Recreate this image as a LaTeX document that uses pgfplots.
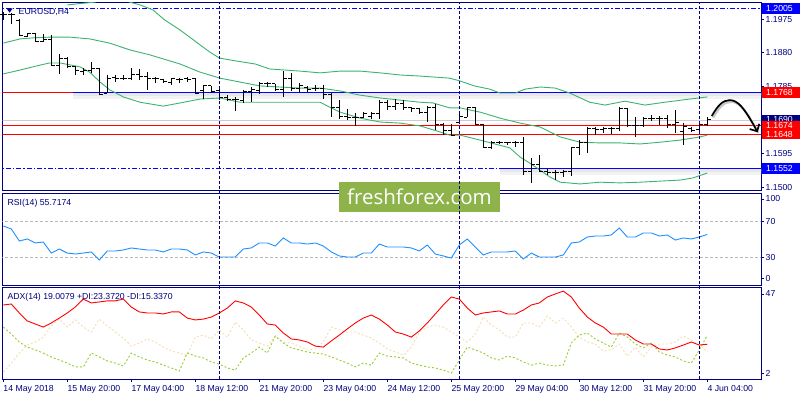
\documentclass[border=0pt]{standalone}
\usepackage{pgfplots}
\pgfplotsset{compat=1.18}
\usepackage{pgfplotstable}
\usepackage{fontspec}
\setmainfont{Liberation Sans}
\newfontfamily\wmfont{Open Sans}
\usetikzlibrary{arrows.meta}
\definecolor{navy}{RGB}{0,0,128}
\definecolor{bbgreen}{RGB}{60,179,113}
\definecolor{rsiblue}{RGB}{30,144,255}
\definecolor{digreen}{RGB}{154,205,50}
\definecolor{diwheat}{RGB}{245,222,179}
\definecolor{ffgreen}{RGB}{141,179,74}
\definecolor{lvlblue}{RGB}{0,0,255}
\definecolor{lvlred}{RGB}{255,0,0}
\definecolor{bidgray}{RGB}{205,205,205}
\newcommand\mtfont{\fontsize{8.7}{10.3}\selectfont}
\pgfdeclareplotmark{otick}{\pgfpathmoveto{\pgfqpoint{-3.2pt}{0pt}}\pgfpathlineto{\pgfqpoint{0pt}{0pt}}\pgfusepathqstroke}
\pgfdeclareplotmark{ctick}{\pgfpathmoveto{\pgfqpoint{0pt}{0pt}}\pgfpathlineto{\pgfqpoint{3.2pt}{0pt}}\pgfusepathqstroke}
\pgfplotstableread{
i o h l c
0 1.1989 1.1995 1.1972 1.1989
1 1.1989 1.1992 1.1961 1.1987
2 1.1972 1.1975 1.1927 1.1930
3 1.1927 1.1936 1.1924 1.1933
4 1.1933 1.1936 1.1910 1.1913
5 1.1913 1.1933 1.1910 1.1916
6 1.1916 1.1930 1.1845 1.1845
7 1.1845 1.1876 1.1820 1.1865
8 1.1865 1.1868 1.1837 1.1840
9 1.1840 1.1842 1.1817 1.1831
10 1.1828 1.1837 1.1817 1.1831
11 1.1831 1.1854 1.1823 1.1834
12 1.1834 1.1837 1.1763 1.1763
13 1.1766 1.1817 1.1766 1.1808
14 1.1811 1.1817 1.1797 1.1806
15 1.1806 1.1817 1.1803 1.1808
16 1.1808 1.1837 1.1803 1.1817
17 1.1817 1.1834 1.1803 1.1814
18 1.1814 1.1825 1.1775 1.1808
19 1.1806 1.1811 1.1794 1.1806
20 1.1803 1.1806 1.1794 1.1800
21 1.1797 1.1808 1.1789 1.1806
22 1.1803 1.1808 1.1794 1.1803
23 1.1806 1.1811 1.1797 1.1803
24 1.1806 1.1808 1.1763 1.1766
25 1.1772 1.1789 1.1749 1.1786
26 1.1786 1.1786 1.1766 1.1769
27 1.1772 1.1777 1.1746 1.1752
28 1.1752 1.1760 1.1743 1.1749
29 1.1749 1.1755 1.1715 1.1749
30 1.1746 1.1775 1.1738 1.1769
31 1.1769 1.1783 1.1740 1.1775
32 1.1772 1.1797 1.1763 1.1794
33 1.1794 1.1797 1.1783 1.1792
34 1.1792 1.1792 1.1772 1.1775
35 1.1775 1.1828 1.1755 1.1808
36 1.1808 1.1823 1.1772 1.1780
37 1.1780 1.1794 1.1769 1.1786
38 1.1783 1.1786 1.1769 1.1777
39 1.1780 1.1789 1.1772 1.1780
40 1.1780 1.1789 1.1749 1.1763
41 1.1763 1.1766 1.1698 1.1726
42 1.1726 1.1746 1.1693 1.1701
43 1.1701 1.1721 1.1690 1.1698
44 1.1698 1.1710 1.1673 1.1698
45 1.1698 1.1712 1.1695 1.1707
46 1.1701 1.1712 1.1693 1.1707
47 1.1707 1.1746 1.1693 1.1738
48 1.1738 1.1746 1.1718 1.1729
49 1.1729 1.1749 1.1718 1.1735
50 1.1735 1.1746 1.1718 1.1724
51 1.1724 1.1726 1.1712 1.1721
52 1.1721 1.1724 1.1707 1.1712
53 1.1712 1.1729 1.1684 1.1726
54 1.1726 1.1735 1.1661 1.1676
55 1.1676 1.1681 1.1647 1.1661
56 1.1661 1.1678 1.1644 1.1647
57 1.1684 1.1707 1.1681 1.1701
58 1.1698 1.1726 1.1698 1.1724
59 1.1724 1.1726 1.1676 1.1676
60 1.1676 1.1678 1.1611 1.1613
61 1.1613 1.1630 1.1608 1.1627
62 1.1627 1.1630 1.1622 1.1625
63 1.1625 1.1627 1.1619 1.1625
64 1.1625 1.1630 1.1613 1.1627
65 1.1627 1.1642 1.1534 1.1543
66 1.1543 1.1582 1.1512 1.1563
67 1.1563 1.1591 1.1543 1.1545
68 1.1545 1.1551 1.1534 1.1540
69 1.1540 1.1548 1.1520 1.1540
70 1.1540 1.1548 1.1529 1.1543
71 1.1543 1.1613 1.1531 1.1613
72 1.1613 1.1633 1.1591 1.1627
73 1.1627 1.1670 1.1596 1.1667
74 1.1667 1.1670 1.1647 1.1664
75 1.1664 1.1670 1.1653 1.1667
76 1.1667 1.1670 1.1650 1.1667
77 1.1667 1.1726 1.1659 1.1721
78 1.1721 1.1724 1.1670 1.1673
79 1.1673 1.1698 1.1642 1.1673
80 1.1673 1.1698 1.1670 1.1693
81 1.1693 1.1704 1.1687 1.1693
82 1.1693 1.1701 1.1676 1.1695
83 1.1695 1.1704 1.1667 1.1678
84 1.1678 1.1718 1.1653 1.1684
85 1.1656 1.1681 1.1619 1.1670
86 1.1667 1.1670 1.1656 1.1661
87 1.1664 1.1681 1.1659 1.1678
88 1.1678 1.1698 1.1673 1.1690
}\ohlc
\pgfplotsset{
  mtpanel/.style={scale only axis, width=758.5pt, xmin=-0.1, xmax=94.71,
    anchor=south west, axis line style={navy, line width=0.8pt},
    xtick=\empty, ytick pos=right, yticklabel pos=right,
    tick align=outside, major tick length=3pt,
    tick style={navy, line width=0.6pt},
    every tick label/.append style={text=navy, font=\mtfont},
    yticklabel style={anchor=west, inner xsep=1.5pt},
    /pgf/number format/assume math mode=true},
}
\begin{document}
\begin{tikzpicture}[x=1pt,y=1pt]
\path[use as bounding box] (0,0) rectangle (800,400);
\fill[white] (0,0) rectangle (800,400);
% ---------------- main price panel
\begin{axis}[mtpanel, at={(2.5pt,210pt)}, height=188pt,
  ymin=1.14919, ymax=1.20233,
  ytick={1.1500,1.1595,1.1690,1.1785,1.1880,1.1975},
  yticklabel style={/pgf/number format/.cd, fixed, fixed zerofill, precision=4}]
% level lines
\addplot[lvlblue, line width=0.9pt, dash pattern=on 5pt off 2pt on 1.5pt off 2pt] coordinates {(-1,1.2005) (96,1.2005)};
\addplot[black!5, line width=7pt] coordinates {(8.7,1.17595) (96,1.17595)};
\addplot[black!9, line width=3pt] coordinates {(8.7,1.1762) (96,1.1762)};
\addplot[lvlred, line width=0.9pt] coordinates {(-1,1.1768) (8.7,1.1768)};
\addplot[lvlblue, line width=0.9pt] coordinates {(8.7,1.1768) (96,1.1768)};
\addplot[bidgray, line width=0.8pt] coordinates {(-1,1.1690) (96,1.1690)};
\addplot[lvlred, line width=0.9pt] coordinates {(-1,1.1674) (96,1.1674)};
\addplot[lvlred, line width=0.9pt] coordinates {(-1,1.1648) (96,1.1648)};
\addplot[black!5, line width=7pt] coordinates {(62.1,1.15435) (96,1.15435)};
\addplot[black!9, line width=3pt] coordinates {(62.1,1.1546) (96,1.1546)};
\addplot[lvlblue, line width=0.9pt, dash pattern=on 5pt off 2pt on 1.5pt off 2pt] coordinates {(-1,1.1552) (62.1,1.1552)};
\addplot[lvlblue, line width=0.9pt] coordinates {(62.1,1.1552) (96,1.1552)};
% Bollinger bands
\addplot[bbgreen, line width=0.9pt] coordinates {(8.0,1.2015) (9.6,1.2019) (11.5,1.2023) (12.1,1.2029) (14.0,1.2032) (15.2,1.2029) (15.8,1.2023) (17.1,1.2015) (18.7,1.2001) (20.2,1.1972) (21.5,1.1953) (22.1,1.1944) (23.3,1.1924) (24.6,1.1902) (25.8,1.1882) (27.0,1.1865) (29.0,1.1857) (31.5,1.1848) (33.3,1.1834) (37.1,1.1828) (39.6,1.1823) (42.1,1.1828) (44.6,1.1828) (47.1,1.1823) (49.6,1.1817) (52.1,1.1814) (55.8,1.1808) (57.1,1.1800) (58.9,1.1786) (60.8,1.1777) (62.1,1.1766) (64.0,1.1766) (65.2,1.1777) (67.1,1.1783) (69.0,1.1780) (70.8,1.1766) (73.3,1.1740) (75.2,1.1732) (77.7,1.1743) (80.2,1.1732) (82.7,1.1740) (85.8,1.1749) (88.0,1.1755)};
\addplot[bbgreen, line width=0.9pt] coordinates {(0.0,1.1907) (2.1,1.1919) (3.7,1.1922) (5.8,1.1924) (8.3,1.1924) (10.8,1.1919) (13.3,1.1907) (15.8,1.1888) (18.3,1.1874) (22.1,1.1848) (24.6,1.1825) (27.1,1.1808) (29.6,1.1797) (32.1,1.1786) (34.6,1.1783) (37.1,1.1780) (39.6,1.1780) (42.1,1.1772) (44.6,1.1760) (47.1,1.1752) (49.6,1.1746) (52.1,1.1740) (53.7,1.1738) (55.8,1.1724) (57.1,1.1724) (59.6,1.1712) (62.1,1.1695) (64.6,1.1681) (67.1,1.1670) (69.6,1.1642) (72.1,1.1627) (74.6,1.1625) (77.1,1.1625) (79.6,1.1622) (82.1,1.1627) (84.6,1.1633) (87.1,1.1642) (88.0,1.1647)};
\addplot[bbgreen, line width=0.9pt] coordinates {(0.0,1.1820) (2.1,1.1831) (4.6,1.1845) (5.8,1.1851) (7.1,1.1851) (9.6,1.1840) (10.8,1.1825) (12.1,1.1797) (13.3,1.1775) (15.0,1.1755) (17.1,1.1740) (20.0,1.1729) (22.1,1.1738) (24.6,1.1749) (27.1,1.1752) (28.3,1.1746) (29.6,1.1740) (34.6,1.1740) (39.6,1.1740) (40.8,1.1726) (42.1,1.1712) (44.6,1.1695) (47.1,1.1684) (49.6,1.1681) (52.1,1.1673) (54.6,1.1656) (55.8,1.1647) (57.1,1.1647) (59.6,1.1633) (63.3,1.1611) (64.6,1.1585) (65.8,1.1568) (67.1,1.1548) (68.3,1.1529) (69.6,1.1514) (72.1,1.1509) (74.6,1.1514) (77.1,1.1512) (79.6,1.1514) (82.1,1.1517) (84.6,1.1520) (86.2,1.1526) (88.0,1.1540)};
% OHLC bars
\addplot[draw=none, mark=none, forget plot,
  error bars/.cd, y dir=minus, y explicit, error mark=none,
  error bar style={black, line width=1pt}]
  table[x=i, y=h, y error minus expr={\thisrow{h}-\thisrow{l}}] {\ohlc};
\addplot[only marks, mark=otick, mark options={black, line width=1pt}] table[x=i, y=o] {\ohlc};
\addplot[only marks, mark=ctick, mark options={black, line width=1pt}] table[x=i, y=c] {\ohlc};
% forecast arrow
\draw[black!22, line width=2.4pt, xshift=1.3pt, yshift=-1.6pt] (axis cs:88.55,1.1701) .. controls (axis cs:89.3,1.1730) and (axis cs:89.9,1.1746) .. (axis cs:90.8,1.1746) .. controls (axis cs:91.8,1.1746) and (axis cs:92.6,1.1725) .. (axis cs:94.2,1.1658);
\draw[black, line width=1.7pt, -{Straight Barb[length=5.5pt, width=11pt]}] (axis cs:88.55,1.1701) .. controls (axis cs:89.3,1.1730) and (axis cs:89.9,1.1746) .. (axis cs:90.8,1.1746) .. controls (axis cs:91.8,1.1746) and (axis cs:92.6,1.1725) .. (axis cs:94.3,1.1655);
\coordinate (p2005) at (axis cs:0,1.2005);
\coordinate (p1768) at (axis cs:0,1.1768);
\coordinate (p1690) at (axis cs:0,1.1690);
\coordinate (p1674) at (axis cs:0,1.1674);
\coordinate (p1648) at (axis cs:0,1.1648);
\coordinate (p1552) at (axis cs:0,1.1552);
\end{axis}
% ---------------- RSI panel
\begin{axis}[mtpanel, at={(2.5pt,115pt)}, height=92pt,
  ymin=-1.1, ymax=102.2, ytick={6.7,30,70,95.5}, yticklabels={0,30,70,100}]
\addplot[black!28, line width=0.7pt, dash pattern=on 3pt off 2pt] coordinates {(-1,70) (96,70)};
\addplot[black!28, line width=0.7pt, dash pattern=on 3pt off 2pt] coordinates {(-1,30) (96,30)};
\addplot[rsiblue, line width=0.9pt] coordinates {(0,65.2) (1,61.8) (2,48.3) (3,50.6) (4,46.1) (5,47.2) (6,34.8) (7,39.3) (8,34.8) (9,33.7) (10,34.8) (11,36.0) (12,27.0) (13,37.1) (14,37.1) (15,38.2) (16,40.5) (17,39.3) (18,38.2) (19,38.2) (20,36.0) (21,39.3) (22,39.3) (23,38.2) (24,32.6) (25,36.0) (26,34.8) (27,30.3) (28,30.3) (29,30.3) (30,39.3) (31,40.5) (32,46.1) (33,46.1) (34,42.7) (35,51.7) (36,46.1) (37,46.1) (38,44.9) (39,46.1) (40,42.7) (41,36.0) (42,31.5) (43,30.3) (44,30.3) (45,34.8) (46,34.8) (47,44.9) (48,41.6) (49,41.6) (50,41.6) (51,40.5) (52,37.1) (53,43.8) (54,33.7) (55,31.5) (56,29.2) (57,43.8) (58,50.6) (59,41.6) (60,32.6) (61,36.0) (62,36.0) (63,36.0) (64,37.1) (65,28.1) (66,34.8) (67,30.3) (68,30.3) (69,30.3) (70,32.6) (71,46.1) (72,47.2) (73,52.8) (74,53.9) (75,53.9) (76,55.1) (77,62.9) (78,52.8) (79,52.8) (80,57.3) (81,57.3) (82,53.9) (83,55.1) (84,49.4) (85,51.7) (86,50.6) (87,52.8) (88,55.7)};
\end{axis}
% ---------------- ADX panel
\begin{axis}[mtpanel, at={(2.5pt,21pt)}, height=92pt,
  ymin=2, ymax=47, ytick={4.9,43.6}, yticklabels={2,47},
  xtick={0,8,...,88}, xtick pos=bottom, xticklabel pos=bottom,
  xticklabels={14 May 2018,15 May 20:00,17 May 04:00,18 May 12:00,21 May 20:00,23 May 04:00,24 May 12:00,25 May 20:00,29 May 04:00,30 May 12:00,31 May 20:00,4 Jun 04:00},
  xticklabel style={anchor=north west, inner xsep=0pt, inner ysep=3pt}]
\addplot[diwheat, line width=0.9pt, dash pattern=on 2pt off 2pt] coordinates {(0,5.4) (1,9.8) (2,14.7) (3,18.6) (4,20.1) (5,22.5) (6,27.9) (7,31.3) (8,27.4) (9,30.9) (10,27.4) (11,25.0) (12,31.3) (13,27.9) (14,25.0) (15,22.0) (16,18.1) (17,19.6) (18,21.6) (19,20.1) (20,17.6) (21,15.7) (22,14.7) (23,13.7) (24,22.5) (25,23.5) (26,21.6) (27,26.0) (28,22.5) (29,29.9) (30,26.0) (31,21.1) (32,19.6) (33,18.1) (34,23.0) (35,20.1) (36,19.6) (37,18.1) (38,16.2) (39,16.7) (40,20.1) (41,27.4) (42,26.0) (43,25.0) (44,25.0) (45,23.5) (46,22.0) (47,19.6) (48,16.7) (49,15.2) (50,13.7) (51,17.6) (52,25.0) (53,27.4) (54,28.4) (55,27.4) (56,25.0) (57,22.5) (58,20.1) (59,24.0) (60,32.3) (61,28.4) (62,26.0) (63,22.5) (64,22.5) (65,29.4) (66,29.4) (67,27.4) (68,32.8) (69,29.4) (70,31.8) (71,27.4) (72,22.5) (73,20.1) (74,19.1) (75,15.7) (76,16.2) (77,19.1) (78,13.2) (79,17.6) (80,12.8) (81,17.6) (82,19.1) (83,19.1) (84,20.1) (85,23.0) (86,21.1) (87,18.6) (88,15.3)};
\addplot[digreen, line width=0.9pt, dash pattern=on 2pt off 2pt] coordinates {(0,27.4) (1,24.0) (2,20.1) (3,17.6) (4,16.2) (5,14.7) (6,12.8) (7,11.3) (8,9.8) (9,7.9) (10,7.9) (11,14.7) (12,12.8) (13,10.8) (14,9.8) (15,8.4) (16,14.7) (17,12.8) (18,11.3) (19,10.3) (20,8.8) (21,7.4) (22,5.9) (23,14.7) (24,13.2) (25,12.3) (26,10.3) (27,9.3) (28,7.4) (29,6.4) (30,12.3) (31,14.7) (32,17.6) (33,14.7) (34,23.0) (35,19.6) (36,17.2) (37,16.2) (38,15.2) (39,14.7) (40,14.2) (41,12.8) (42,11.3) (43,9.8) (44,7.9) (45,9.8) (46,8.8) (47,14.7) (48,13.2) (49,12.8) (50,12.3) (51,9.8) (52,8.8) (53,7.9) (54,7.4) (55,6.4) (56,4.9) (57,11.3) (58,17.6) (59,16.2) (60,14.7) (61,12.3) (62,11.3) (63,13.2) (64,12.3) (65,10.3) (66,8.8) (67,9.8) (68,8.8) (69,8.4) (70,8.8) (71,19.6) (72,23.5) (73,24.5) (74,21.6) (75,19.6) (76,17.6) (77,24.5) (78,22.5) (79,19.1) (80,17.2) (81,19.6) (82,15.2) (83,13.7) (84,12.8) (85,10.8) (86,9.8) (87,16.2) (88,23.4)};
\addplot[lvlred, line width=0.9pt] coordinates {(0,38.2) (1,38.7) (2,34.3) (3,30.4) (4,28.9) (5,27.4) (6,29.4) (7,31.8) (8,34.3) (9,37.2) (10,41.1) (11,39.2) (12,39.7) (13,40.2) (14,40.2) (15,41.1) (16,37.2) (17,34.8) (18,34.3) (19,34.3) (20,33.8) (21,34.8) (22,34.8) (23,31.8) (24,30.9) (25,31.3) (26,32.3) (27,34.3) (28,36.7) (29,40.2) (30,39.2) (31,37.2) (32,33.3) (33,28.9) (34,28.4) (35,24.5) (36,21.6) (37,21.1) (38,20.1) (39,18.1) (40,17.6) (41,20.6) (42,23.5) (43,26.5) (44,29.4) (45,31.8) (46,33.3) (47,31.3) (48,28.4) (49,25.0) (50,24.0) (51,22.5) (52,25.5) (53,29.4) (54,33.8) (55,38.2) (56,42.1) (57,41.1) (58,36.7) (59,33.3) (60,34.3) (61,34.8) (62,35.3) (63,33.8) (64,33.8) (65,35.7) (66,38.2) (67,39.2) (68,42.1) (69,43.6) (70,45.0) (71,42.1) (72,36.7) (73,32.3) (74,29.4) (75,27.4) (76,24.0) (77,24.0) (78,24.0) (79,21.1) (80,19.1) (81,19.1) (82,16.7) (83,16.2) (84,17.2) (85,18.6) (86,20.1) (87,18.6) (88,19.0)};
\end{axis}
% ---------------- price boxes on the right scale
\coordinate (R) at (762,0);
\coordinate (RT) at (766,0);
\begin{scope}[font=\mtfont]
\fill[lvlblue] (R |- p2005) ++(0,-5.5) rectangle ++(38,11);
\node[anchor=west, inner sep=0pt, text=white] at (RT |- p2005) {1.2005};
\fill[lvlred] (R |- p1768) ++(0,-5.5) rectangle ++(38,11);
\node[anchor=west, inner sep=0pt, text=white] at (RT |- p1768) {1.1768};
\fill[navy] (R |- p1690) ++(0,-5) rectangle ++(38,10);
\node[anchor=west, inner sep=0pt, text=white] at (RT |- p1690) {1.1690};
\fill[lvlred] (R |- p1674) ++(0,-4.6) rectangle ++(38,9.2);
\fill[lvlred] (R |- p1648) ++(0,-4.6) rectangle ++(38,9.2);
\node[anchor=west, inner sep=0pt, text=white] at (RT |- p1674) {1.1674};
\node[anchor=west, inner sep=0pt, text=white] at (RT |- p1648) {1.1648};
\fill[lvlblue] (R |- p1552) ++(0,-5.5) rectangle ++(38,11);
\node[anchor=west, inner sep=0pt, text=white] at (RT |- p1552) {1.1552};
% panel captions
\fill[navy] (6.5,391.7) -- (12.7,391.7) -- (9.6,387.3) -- cycle;
\node[anchor=base west, inner sep=0pt, text=navy] at (18.5,385.9) {EURUSD,H4};
\node[anchor=base west, inner sep=0pt, text=navy] at (7.3,194.9) {RSI(14) 55.7174};
\node[anchor=base west, inner sep=0pt, text=navy] at (7.3,100.2) {ADX(14) 19.0079 +DI:23.3720 -DI:15.3370};
\end{scope}
% watermark
\node[fill=ffgreen, minimum width=161pt, minimum height=30pt, inner sep=0pt, text=white, font=\wmfont\fontsize{20.5}{24}\selectfont] at (419.5,203) {freshforex.com};
% ---------------- vertical grid overlay
\begin{axis}[scale only axis, width=758.5pt, height=377pt, at={(2.5pt,21pt)}, anchor=south west,
  xmin=-0.1, xmax=94.71, ymin=0, ymax=1, hide axis]
\addplot[navy, line width=0.8pt, dash pattern=on 3pt off 2pt] coordinates {(27,0) (27,1)};
\addplot[navy, line width=0.8pt, dash pattern=on 3pt off 2pt] coordinates {(57,0) (57,1)};
\addplot[navy, line width=0.8pt, dash pattern=on 3pt off 2pt] coordinates {(87,0) (87,1)};
\end{axis}
\end{tikzpicture}
\end{document}
